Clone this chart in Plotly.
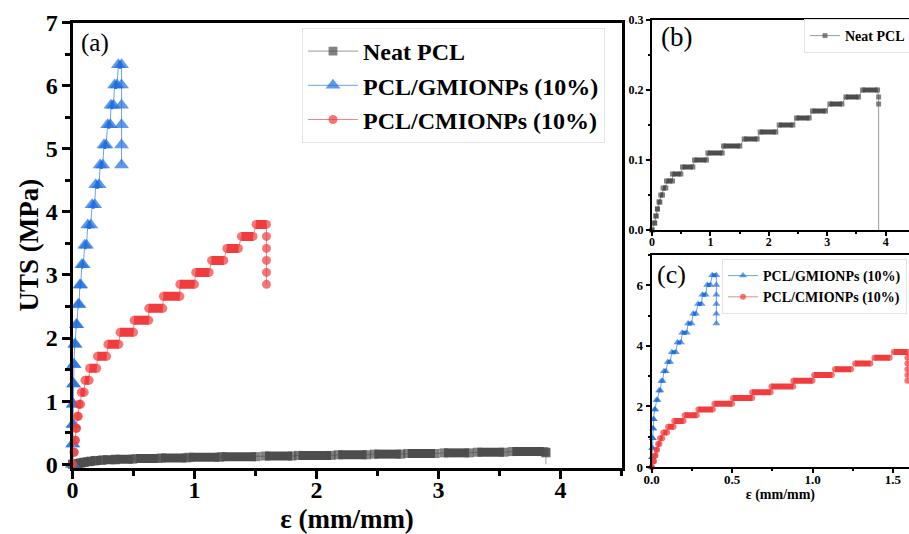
import plotly.graph_objects as go

# ---------------- data ----------------
# Neat PCL: stress plateaus (MPa) and the strain where each plateau starts / ends
pcl_level = [0.00, 0.01, 0.02, 0.03, 0.04, 0.05, 0.06, 0.07, 0.08, 0.09, 0.10,
             0.11, 0.12, 0.13, 0.14, 0.15, 0.16, 0.17, 0.18, 0.19, 0.20]
pcl_start = [0.000, 0.045, 0.068, 0.092, 0.120, 0.150, 0.190, 0.248, 0.351, 0.522, 0.728,
             0.956, 1.224, 1.578, 1.852, 2.178, 2.474, 2.748, 3.045, 3.319, 3.605]
pcl_end = [0.000, 0.045, 0.070, 0.094, 0.134, 0.180, 0.237, 0.351, 0.494, 0.699, 0.933,
           1.202, 1.504, 1.800, 2.120, 2.411, 2.691, 2.971, 3.251, 3.536, 3.862]
pcl_break_strain = [3.880, 3.880, 3.880]
pcl_break_stress = [0.19, 0.18, 0.00]

# PCL/GMIONPs (10%)
gm_level = [0.00, 0.32, 0.63, 0.95, 1.27, 1.58, 1.90, 2.21, 2.53, 2.84, 3.16,
            3.47, 3.79, 4.11, 4.43, 4.74, 5.06, 5.38, 5.69, 6.01, 6.33]
gm_start = [0.000, 0.002, 0.004, 0.006, 0.009, 0.012, 0.018, 0.030, 0.046, 0.060, 0.076,
            0.100, 0.125, 0.160, 0.190, 0.226, 0.258, 0.288, 0.315, 0.345, 0.376]
gm_end = [0.000, 0.002, 0.004, 0.006, 0.009, 0.012, 0.022, 0.036, 0.054, 0.068, 0.088,
          0.115, 0.150, 0.182, 0.218, 0.248, 0.275, 0.310, 0.336, 0.365, 0.402]
gm_break_strain = [0.402, 0.402, 0.402, 0.402, 0.402]
gm_break_stress = [6.01, 5.69, 5.38, 5.06, 4.74]

# PCL/CMIONPs (10%)
cm_level = [0.00, 0.19, 0.38, 0.57, 0.76, 0.95, 1.14, 1.33, 1.52, 1.71, 1.90,
            2.09, 2.28, 2.47, 2.66, 2.85, 3.04, 3.23, 3.42, 3.61, 3.80]
cm_start = [0.000, 0.012, 0.020, 0.028, 0.040, 0.052, 0.072, 0.102, 0.140, 0.205, 0.290,
            0.390, 0.505, 0.625, 0.745, 0.880, 1.010, 1.140, 1.265, 1.385, 1.505]
cm_end = [0.000, 0.014, 0.024, 0.034, 0.048, 0.066, 0.096, 0.136, 0.198, 0.280, 0.380,
          0.500, 0.625, 0.740, 0.880, 1.000, 1.120, 1.240, 1.360, 1.480, 1.590]
cm_break_strain = [1.590, 1.590, 1.590, 1.590, 1.590]
cm_break_stress = [3.61, 3.42, 3.23, 3.04, 2.85]

names = ["Neat PCL", "PCL/GMIONPs (10%)", "PCL/CMIONPs (10%)"]
main_x_ticks = [0, 1, 2, 3, 4]
main_y_ticks = [0, 1, 2, 3, 4, 5, 6, 7]

# ---------------- styling ----------------
FONT = "Liberation Serif"
GREY_M, GREY_L = "#4d4d4d", "#9a9a9a"
BLUE_M, BLUE_L = "#1f6fdf", "#6aa2f0"
RED_M, RED_L = "#f03c3c", "#f58585"

fig = go.Figure()


def add_series(level, start, end, bx, by, name, mcol, lcol, symbol, msize, segw,
               xa, ya, legend, hide_last=False, lw=1):
    xs, ys = [], []
    for l, s, e in zip(level, start, end):
        xs += [s, e]
        ys += [l, l]
    xs += list(bx)
    ys += list(by)
    sizes = [msize] * len(xs)
    if hide_last:
        sizes[-1] = 0
    fig.add_trace(go.Scatter(
        x=xs, y=ys, mode="lines+markers", name=name,
        line=dict(color=lcol, width=lw),
        marker=dict(symbol=symbol, size=sizes, color=mcol, line=dict(width=0)),
        xaxis=xa, yaxis=ya, legend=legend, cliponaxis=False))
    sx, sy = [], []
    for l, s, e in zip(level, start, end):
        sx += [s, e, None]
        sy += [l, l, None]
    fig.add_trace(go.Scatter(
        x=sx, y=sy, mode="lines", showlegend=False, hoverinfo="skip",
        line=dict(color=mcol, width=segw),
        xaxis=xa, yaxis=ya))


# main panel (a)
add_series(pcl_level, pcl_start, pcl_end, pcl_break_strain, pcl_break_stress,
           names[0], GREY_M, GREY_L, "square", 9, 9, "x", "y", "legend", hide_last=True)
add_series(gm_level, gm_start, gm_end, gm_break_strain, gm_break_stress,
           names[1], BLUE_M, BLUE_L, "triangle-up", 13, 8, "x", "y", "legend")
add_series(cm_level, cm_start, cm_end, cm_break_strain, cm_break_stress,
           names[2], RED_M, RED_L, "circle", 9, 9, "x", "y", "legend")
# inset (b)
add_series(pcl_level, pcl_start, pcl_end, pcl_break_strain, pcl_break_stress,
           names[0], GREY_M, GREY_L, "square", 5, 5, "x2", "y2", "legend2", hide_last=True)
# inset (c)
add_series(gm_level, gm_start, gm_end, gm_break_strain, gm_break_stress,
           names[1], BLUE_M, BLUE_L, "triangle-up", 7, 4, "x3", "y3", "legend3")
add_series(cm_level, cm_start, cm_end, cm_break_strain, cm_break_stress,
           names[2], RED_M, RED_L, "circle", 6, 6, "x3", "y3", "legend3")

W, H = 909, 534


def px_x(v):
    return v / W


def px_y(v):
    return 1 - v / H


bold = dict(family=FONT, color="black", weight="bold")


def ax(size, lw, tl, tw, **kw):
    d = dict(showline=True, linecolor="black", linewidth=lw, showgrid=False,
             zeroline=False, ticks="outside", ticklen=tl, tickwidth=tw,
             tickcolor="black", tickfont=dict(size=size, **bold))
    d.update(kw)
    return d


fig.update_layout(
    width=W, height=H,
    margin=dict(l=0, r=0, t=0, b=0, autoexpand=False),
    paper_bgcolor="white", plot_bgcolor="white",
    xaxis=ax(24, 3, 8, 3, domain=[px_x(72.5), px_x(621.5)], range=[0, 4.5],
             tickvals=main_x_ticks, mirror=True, ticklabelstandoff=-10,
             minor=dict(dtick=0.5, ticks="outside", ticklen=5, tickwidth=3, tickcolor="black"),
             title=dict(text="ε (mm/mm)", font=dict(size=27, **bold), standoff=12)),
    yaxis=ax(24, 3, 8, 3, domain=[px_y(468), px_y(22.5)], range=[-0.06, 7.0],
             tickvals=main_y_ticks, mirror=True, ticklabelstandoff=-1,
             minor=dict(dtick=0.5, ticks="outside", ticklen=5, tickwidth=3, tickcolor="black"),
             title=dict(text="UTS (MPa)", font=dict(size=27, **bold), standoff=0)),
    xaxis2=ax(12, 2, 4, 2, domain=[px_x(652), 1.0], range=[0, 4.40], dtick=1,
              anchor="y2", mirror=True, ticklabelstandoff=-4,
              minor=dict(dtick=0.5, ticks="outside", ticklen=2, tickwidth=1.5, tickcolor="black")),
    yaxis2=ax(12, 2, 4, 2, domain=[px_y(230), px_y(20)], range=[0, 0.3], dtick=0.1,
              tickformat=".1f", anchor="x2", mirror=False,
              minor=dict(dtick=0.05, ticks="outside", ticklen=2, tickwidth=1.5, tickcolor="black")),
    xaxis3=ax(13, 2, 4, 2, domain=[px_x(651.7), 1.0], range=[0, 1.6], dtick=0.5,
              tickformat=".1f", anchor="y3", mirror=True, ticklabelstandoff=-5,
              minor=dict(dtick=0.25, ticks="outside", ticklen=2, tickwidth=1.5, tickcolor="black"),
              title=dict(text="ε (mm/mm)", font=dict(size=14, **bold), standoff=4)),
    yaxis3=ax(13, 2, 4, 2, domain=[px_y(467), px_y(255)], range=[0, 7], dtick=2,
              anchor="x3", mirror=False,
              minor=dict(dtick=1, ticks="outside", ticklen=2, tickwidth=1.5, tickcolor="black")),
    legend=dict(x=px_x(302), y=px_y(28), xanchor="left", yanchor="top",
                font=dict(size=24, **bold), bgcolor="white",
                bordercolor="#e3e3e3", borderwidth=1, itemwidth=50),
    legend2=dict(x=px_x(804), y=px_y(19), xanchor="left", yanchor="top",
                 font=dict(size=14, **bold), bgcolor="white",
                 bordercolor="#e3e3e3", borderwidth=1),
    legend3=dict(x=px_x(722), y=px_y(259), xanchor="left", yanchor="top",
                 font=dict(size=14, **bold), bgcolor="rgba(255,255,255,0)",
                 bordercolor="#e3e3e3", borderwidth=1),
    annotations=[
        dict(text="(a)", x=px_x(79), y=px_y(43), xref="paper", yref="paper",
             xanchor="left", yanchor="middle", showarrow=False,
             font=dict(family=FONT, size=25, color="black")),
        dict(text="(b)", x=px_x(659), y=px_y(37), xref="paper", yref="paper",
             xanchor="left", yanchor="middle", showarrow=False,
             font=dict(family=FONT, size=27, color="black")),
        dict(text="(c)", x=px_x(655), y=px_y(274), xref="paper", yref="paper",
             xanchor="left", yanchor="middle", showarrow=False,
             font=dict(family=FONT, size=26, color="black")),
    ],
)

fig.write_html("out.html")
